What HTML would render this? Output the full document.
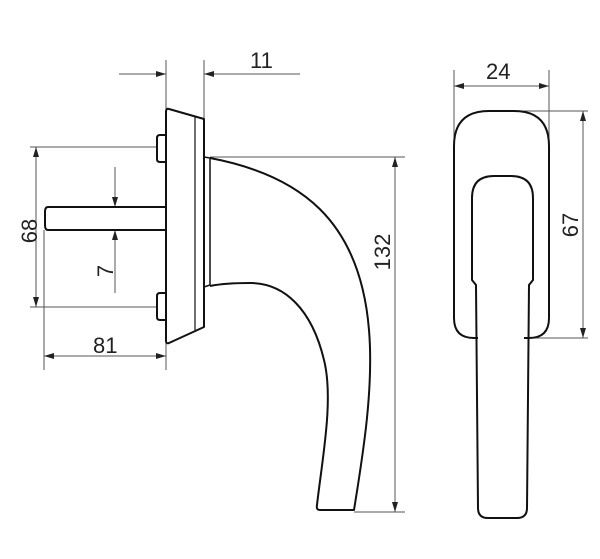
<!DOCTYPE html>
<html><head><style>body{margin:0;background:#fff}svg{display:block}text{font-family:"Liberation Sans",sans-serif;font-size:22px;fill:#222}</style></head><body>
<svg width="600" height="559" viewBox="0 0 600 559" xmlns="http://www.w3.org/2000/svg">
<defs><marker id="a" viewBox="0 0 10 6" refX="10" refY="3" markerWidth="16" markerHeight="6" markerUnits="userSpaceOnUse" orient="auto-start-reverse"><path d="M0 0L10 3L0 6z" fill="#222"/></marker></defs>
<g stroke="#555" stroke-width="1" fill="none">
<line x1="166" y1="60" x2="166" y2="109"/><line x1="204" y1="60" x2="204" y2="119"/>
<line x1="119" y1="74" x2="166" y2="74" marker-end="url(#a)"/><line x1="300" y1="74" x2="204" y2="74" marker-end="url(#a)"/>
<line x1="30" y1="147" x2="157" y2="147"/><line x1="30" y1="307" x2="157" y2="307"/>
<line x1="36" y1="147" x2="36" y2="307" marker-start="url(#a)" marker-end="url(#a)"/>
<line x1="115" y1="167" x2="115" y2="207" marker-end="url(#a)"/><line x1="115" y1="293" x2="115" y2="230" marker-end="url(#a)"/>
<line x1="44" y1="230" x2="44" y2="370"/><line x1="166" y1="343" x2="166" y2="370"/>
<line x1="44" y1="356" x2="166" y2="356" marker-start="url(#a)" marker-end="url(#a)"/>
<line x1="210" y1="157" x2="405" y2="157"/><line x1="354" y1="512" x2="405" y2="512"/>
<line x1="395" y1="157" x2="395" y2="512" marker-start="url(#a)" marker-end="url(#a)"/>
<line x1="454" y1="70" x2="454" y2="140"/><line x1="549" y1="70" x2="549" y2="140"/>
<line x1="454" y1="86" x2="549" y2="86" marker-start="url(#a)" marker-end="url(#a)"/>
<line x1="500" y1="111" x2="588" y2="111"/><line x1="530" y1="338" x2="588" y2="338"/>
<line x1="583" y1="111" x2="583" y2="338" marker-start="url(#a)" marker-end="url(#a)"/>
</g>
<g stroke="#111" stroke-width="2" fill="none" stroke-linejoin="round">
<path d="M169 109L204 119L204 327L169 343Q166 344 166 341L166 112Q166 108 169 109z"/>
<line x1="195" y1="117" x2="195" y2="330" stroke-width="1.2"/>
<path d="M204 157L210 158L210 285L204 287" stroke-width="1.5"/>
<path d="M166 135L160 135Q157 135 157 138L157 159Q157 162 160 162L166 162"/>
<path d="M166 293L160 293Q157 293 157 296L157 317Q157 320 160 320L166 320"/>
<path d="M166 207L48 207Q45 207 45 212L45 225Q45 230 48 230L166 230"/>
<path d="M210 158C300 175 360 220 369 330C374 390 362 460 354 510L320 510Q316 510 317 505C322 460 334 400 324 360C312 310 285 283 250 283C235 283 220 284 210 286"/>
<path d="M489 111L514 111Q549 111 549 146L549 318Q549 338 529 338L524 338"/>
<path d="M489 111Q454 111 454 146L454 318Q454 338 474 338L478 338"/>
<path d="M494 176L511 176Q533 176 533 198L533 280L529 285L527 508Q527 518 517 518L488 518Q478 518 478 508L476 285L472 280L472 198Q472 176 494 176z"/>
</g>
<text x="250" y="68">11</text>
<text x="93" y="353">81</text>
<text x="486" y="79">24</text>
<text transform="translate(37 231) rotate(-90)" text-anchor="middle">68</text>
<text transform="translate(113 271) rotate(-90)" text-anchor="middle">7</text>
<text transform="translate(390 252) rotate(-90)" text-anchor="middle">132</text>
<text transform="translate(578 225) rotate(-90)" text-anchor="middle">67</text>
</svg>
</body></html>
